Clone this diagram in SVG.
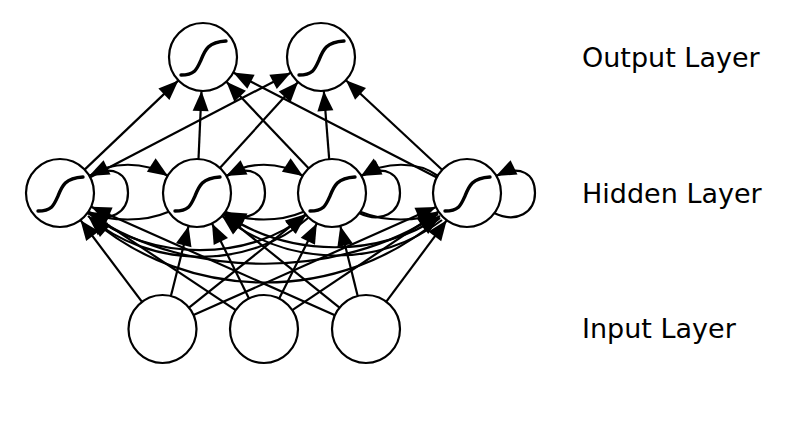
<svg xmlns="http://www.w3.org/2000/svg" width="801" height="425" viewBox="0 0 801 425">
<style>
  .node { fill: #ffffff; stroke: #000000; stroke-width: 2.2; }
  .sig { fill: none; stroke: #000000; stroke-width: 3.4; stroke-linecap: round; }
  .edge { fill: none; stroke: #000000; stroke-width: 2.2; marker-end: url(#arrow); }
  .label { font-family: "DejaVu Sans", "Liberation Sans", sans-serif; font-size: 27px; fill: #000000; }
</style>
<defs>
  <marker id="arrow" markerUnits="userSpaceOnUse" markerWidth="21" markerHeight="16" refX="20" refY="8" orient="auto" overflow="visible">
    <path d="M0,0 L20,8 L0,16 z" fill="#000000"/>
  </marker>
  <path id="sigmoid" class="sig" d="M-22,18 C-8,18 -6,12 -2,3 C2,-7 5,-15 23,-16"/>
</defs>
<rect width="801" height="425" fill="#ffffff"/>

<g id="connectors">
  <!-- hidden to output -->
  <path class="edge" d="M84.6,169.6 L178.4,80.4"/>
  <path class="edge" d="M90.2,177.3 L290.8,72.7"/>
  <path class="edge" d="M198.5,159 L201.5,91"/>
  <path class="edge" d="M219.9,167.9 L298.1,82.1"/>
  <path class="edge" d="M308.6,168.3 L226.4,81.7"/>
  <path class="edge" d="M329.2,159.1 L323.8,90.9"/>
  <path class="edge" d="M436.8,177.4 L233.2,72.6"/>
  <path class="edge" d="M442.1,169.8 L345.9,80.2"/>
  <!-- input to hidden -->
  <path class="edge" d="M142,301.8 L80.5,220.2"/>
  <path class="edge" d="M170.9,296.1 L188.6,225.9"/>
  <path class="edge" d="M189,307.7 L305.5,214.3"/>
  <path class="edge" d="M193.5,315.1 L436,206.9"/>
  <path class="edge" d="M235.7,310.1 L88.3,211.9"/>
  <path class="edge" d="M249,298.5 L212,223.5"/>
  <path class="edge" d="M279.2,298.6 L316.8,223.4"/>
  <path class="edge" d="M292.3,310.1 L438.7,211.9"/>
  <path class="edge" d="M334.9,315.2 L91.1,206.8"/>
  <path class="edge" d="M339.5,307.7 L223.5,214.3"/>
  <path class="edge" d="M357.7,296 L340.3,226"/>
  <path class="edge" d="M386.3,301.7 L446.7,220.3"/>
  <!-- self loops -->
  <path class="edge" d="M87,213 C110,224 128,212 128,193 C128,174 114,164 89,176"/>
  <path class="edge" d="M224,213 C247,224 265,212 265,193 C265,174 251,164 226,176"/>
  <path class="edge" d="M359,213 C382,224 400,212 400,193 C400,174 386,164 361,176"/>
  <path class="edge" d="M494,213 C517,224 535,212 535,193 C535,174 521,164 496,176"/>
  <!-- adjacent arcs -->
  <path class="edge" d="M90,176 C110,161 145,161 168,176"/>
  <path class="edge" d="M227,176 C247,161 280,161 303,176"/>
  <path class="edge" d="M438,176 C418,161 385,161 361,176"/>
  <path class="edge" d="M168,212 C145,222 110,222 89,212"/>
  <path class="edge" d="M303,212 C280,222 247,222 226,212"/>
  <path class="edge" d="M361,212 C385,222 418,222 438,212"/>
  <!-- long arcs -->
  <path class="edge" d="M90,214 C150,262 250,262 306,215"/>
  <path class="edge" d="M308,218 C250,270 150,270 88,216"/>
  <path class="edge" d="M92,216 C190,280 340,280 438,214"/>
  <path class="edge" d="M440,218 C340,304 190,304 90,218"/>
  <path class="edge" d="M224,214 C290,258 380,258 440,216"/>
  <path class="edge" d="M442,220 C380,268 290,268 222,216"/>
</g>

<g id="o1"><circle class="node" cx="203" cy="57" r="34"/><use href="#sigmoid" transform="translate(203,57)"/></g>
<g id="o2"><circle class="node" cx="321" cy="57" r="34"/><use href="#sigmoid" transform="translate(321,57)"/></g>

<g id="h1"><circle class="node" cx="60" cy="193" r="34"/><use href="#sigmoid" transform="translate(60,193)"/></g>
<g id="h2"><circle class="node" cx="197" cy="193" r="34"/><use href="#sigmoid" transform="translate(197,193)"/></g>
<g id="h3"><circle class="node" cx="332" cy="193" r="34"/><use href="#sigmoid" transform="translate(332,193)"/></g>
<g id="h4"><circle class="node" cx="467" cy="193" r="34"/><use href="#sigmoid" transform="translate(467,193)"/></g>

<g id="i1"><circle class="node" cx="162.5" cy="329" r="34"/></g>
<g id="i2"><circle class="node" cx="264" cy="329" r="34"/></g>
<g id="i3"><circle class="node" cx="366" cy="329" r="34"/></g>

<g id="labels">
  <text class="label" x="582" y="66.5">Output Layer</text>
  <text class="label" x="582" y="202.5">Hidden Layer</text>
  <text class="label" x="582" y="337.5">Input Layer</text>
</g>
</svg>
